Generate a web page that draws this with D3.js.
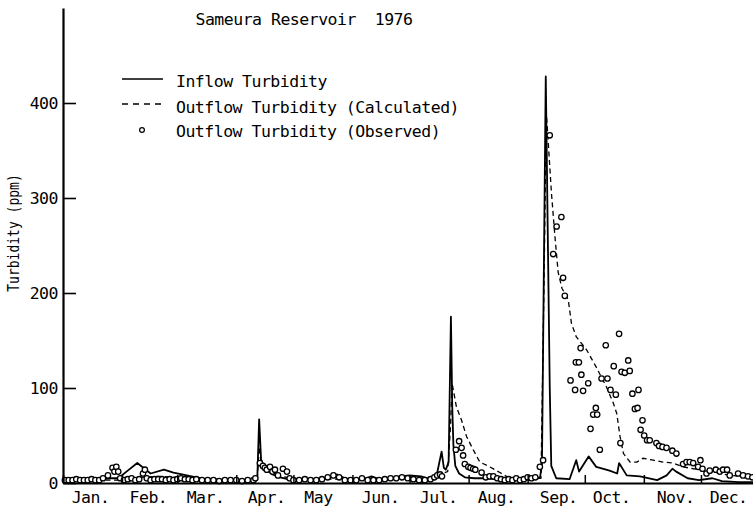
<!DOCTYPE html>
<html><head><meta charset="utf-8">
<script src="https://cdn.jsdelivr.net/npm/d3@7"></script>
<style>
body{margin:0;background:#fff}
svg{display:block;background:#fff}
text{font-family:"DejaVu Sans Mono",monospace;fill:#000}
</style>
</head><body><svg id="c" width="753" height="509"></svg>
<script>
// ---- data (day of year 1976, value in ppm) ----
const title = "Sameura Reservoir  1976";
const yLabel = "Turbidity (ppm)";
const legendLabels = ["Inflow Turbidity", "Outflow Turbidity (Calculated)", "Outflow Turbidity (Observed)"];
const monthLabels = ["Jan.","Feb.","Mar.","Apr.","May","Jun.","Jul.","Aug.","Sep.","Oct.","Nov.","Dec."];
const monthLabelDays = [14.2, 44.6, 74.6, 106.6, 133.9, 166.5, 197, 227.4, 260, 287.8, 321.4, 349.3];
const monthStartDays = [0,31,60,91,121,152,182,213,244,274,305,335];
const yTicks = [0,100,200,300,400];

const inflowDays = [0,5,10,15,20,25,29,34,39,46,53,58,65,72,78,85,92,100,102,103,104,105,107,110,114,118,125,132,140,144,148,152,158,162,166,172,177,182,188,193,196,198.8,200,201,202.5,203.7,204.4,205,206,208,211,216,222,228,234,240,246,250.5,251.5,253.5,255.6,256.4,259,266,269.5,271,276,280,287,291,292,296,303,312,317,320,322,328,334,341,346,355,366];
const inflowVals = [4,4,5,4,4,5,5,13,21,10,14,11,8,5,3,3,3,3,4,67,25,20,14,9,6,4,3,4,6,9,5,3,4,7,4,5,7,8,7,4,6,33,16,14,22,175,80,40,18,10,6,5,5,4,3,4,5,6,20,428,100,18,5,4,24,12,28,17,13,10,21,8,7,3,8,15,12,5,3,5,2,1,1];

const calcDays = [0,30,40,50,60,70,80,102,103,104,106,110,115,120,130,160,190,199,202,203.5,204.3,206.6,209.3,211.9,215.4,218.9,224.1,229.4,234.6,245,251,252.5,253.8,254.5,256.5,258.3,260,262,265.3,267,269.5,275,280,285.4,289,290.8,292.5,294.3,297.8,301.3,304.6,310,315,320.4,325.6,331,336,343,350,357,366];
const calcVals = [3,3,6,7,6,5,4,3,38,22,15,10,7,5,4,4,5,10,12,60,105,80,66,49,35,22,17,11,5,4,5,200,390,368,305,260,222,205,193,168,154,140,122,101,84,73,49,31,22,22,26,24,22,21,17,15,14,11,8,7,7];

const obsDays = [1,3,5,7,9,11,13,15,17,19,21,23.6,26,27,28,29,30,32,34,36,38,40,42,43,44,46,48,50,52,54,56,58,60,62,64,66,68,70,73,76,79,82,85,88,91,94,97,100,101,103.4,105,106,107,108.7,110,111.3,112.9,115.5,117.6,119,121,124,127,130,133,136,139,142,145,148,151,154,157,160,163,166,169,172,175,178,181,184,187,190,193,195,196.5,198,199,206.3,208,209.3,210.1,211,212.8,214,215.4,216.5,219.8,222,224,226,228,230,232,234,236,238,240,242,244,246,248,250.4,252.1,255.6,257.4,259.2,261.7,262.6,263.5,266.5,268.9,269.3,270.9,271.8,272.2,273.1,275.8,277,278.4,279.8,280.5,281.9,282.8,285,285.9,287.5,289.2,290.3,292,292.7,293.3,295,296.8,297.6,299,300.3,301.7,302.2,303.3,304.3,305.2,306.7,308.1,311.6,313,314.8,316.9,320,322.1,325.6,327.4,329.1,330.9,333.5,334.7,335.8,337.9,339.6,342.8,344.9,346.6,348.7,350.1,354.5,357.1,359.7,362];
const obsVals = [3,3,3,4,3,3,3,4,3,3,5,8,16,12,17,12,5,3,4,5,3,4,10,14,5,3,4,4,4,3,4,3,4,5,4,4,3,4,3,3,3,2,3,3,3,2,3,3,5,21,18,16,14,17,12,14,8,15,12,5,3,3,4,3,3,4,6,8,6,3,3,3,5,3,3,3,4,5,5,6,5,4,3,3,4,6,8,9,7,35,44,37,29,20,17,16,15,14,11,6,7,7,5,4,3,4,3,5,3,4,6,5,6,17,24,366,241,270,280,216,197,108,98,127,127,142,114,97,105,57,72,79,72,35,110,145,110,98,123,93,157,42,117,116,129,118,94,78,79,98,56,66,50,45,45,42,39,38,37,34,31,20,22,22,21,17,24,15,10,13,14,12,14,14,8,10,8,7,6];

// ---- layout ----
const svg = d3.select("#c");
const x = d3.scaleLinear().domain([0, 366]).range([63, 760]);
const y = d3.scaleLinear().domain([0, 500]).range([483, 8]);

const mk = (days, vals) => days.map((d, i) => [d, vals[i]]);
const inflow = mk(inflowDays, inflowVals);
const calc = mk(calcDays, calcVals);
const obs = mk(obsDays, obsVals);

const line = d3.line().x(d => x(d[0])).y(d => y(d[1]));

svg.append("path").datum(calc).attr("d", line)
  .attr("fill", "none").attr("stroke", "#000").attr("stroke-width", 1.3)
  .attr("stroke-dasharray", "5,3.5");
svg.append("path").datum(inflow).attr("d", line)
  .attr("fill", "none").attr("stroke", "#000").attr("stroke-width", 1.8)
  .attr("stroke-linejoin", "round");

svg.append("g").selectAll("circle").data(obs).join("circle")
  .attr("cx", d => x(d[0])).attr("cy", d => y(d[1])).attr("r", 2.7)
  .attr("fill", "#fff").attr("stroke", "#000").attr("stroke-width", 1.3);

// ---- axes ----
const yAxis = d3.axisLeft(y).tickValues(yTicks).tickSizeInner(-13).tickSizeOuter(0).tickPadding(5);
const gy = svg.append("g").attr("transform", "translate(63,0)").call(yAxis);
gy.select(".domain").attr("stroke-width", 2.2);
gy.selectAll(".tick line").attr("stroke-width", 1.6);
gy.selectAll(".tick text").style("font-size", "16.5px").style("letter-spacing", "-0.5px").attr("dy", "0.36em");

const xAxis = d3.axisBottom(x).tickValues(monthLabelDays).tickFormat((d, i) => monthLabels[i])
  .tickSizeInner(0).tickSizeOuter(0).tickPadding(8.5);
const gx = svg.append("g").attr("transform", "translate(0,483)").call(xAxis);
gx.select(".domain").attr("stroke-width", 2.2);
gx.selectAll(".tick text").style("font-size", "16.5px").style("letter-spacing", "-0.5px");

const xMonth = d3.axisBottom(x).tickValues(monthStartDays).tickFormat("").tickSizeInner(-8).tickSizeOuter(0);
const gm = svg.append("g").attr("transform", "translate(0,483)").call(xMonth);
gm.select(".domain").remove();
gm.selectAll(".tick line").attr("stroke-width", 1.5);

// ---- texts ----
svg.append("text").attr("x", 304).attr("y", 25).attr("text-anchor", "middle")
  .style("font-size", "16.5px").style("letter-spacing", "-0.5px").style("white-space", "pre")
  .attr("xml:space", "preserve").text(title);

svg.append("text").attr("transform", "translate(19,233) rotate(-90) scale(0.84,1)").attr("text-anchor", "middle")
  .style("font-size", "15.5px").text(yLabel);

// legend
const lg = svg.append("g");
const rowsY = [87, 112.5, 137];
lg.append("line").attr("x1", 122).attr("x2", 163).attr("y1", 79).attr("y2", 79)
  .attr("stroke", "#000").attr("stroke-width", 1.6);
lg.append("line").attr("x1", 122).attr("x2", 163).attr("y1", 104).attr("y2", 104)
  .attr("stroke", "#000").attr("stroke-width", 1.4).attr("stroke-dasharray", "6,5");
lg.append("circle").attr("cx", 142).attr("cy", 130).attr("r", 2.4)
  .attr("fill", "#fff").attr("stroke", "#000").attr("stroke-width", 1.2);
lg.selectAll("text").data(legendLabels).join("text")
  .attr("x", 176).attr("y", (d, i) => rowsY[i])
  .style("font-size", "16.5px").style("letter-spacing", "-0.5px").text(d => d);
</script></body></html>
